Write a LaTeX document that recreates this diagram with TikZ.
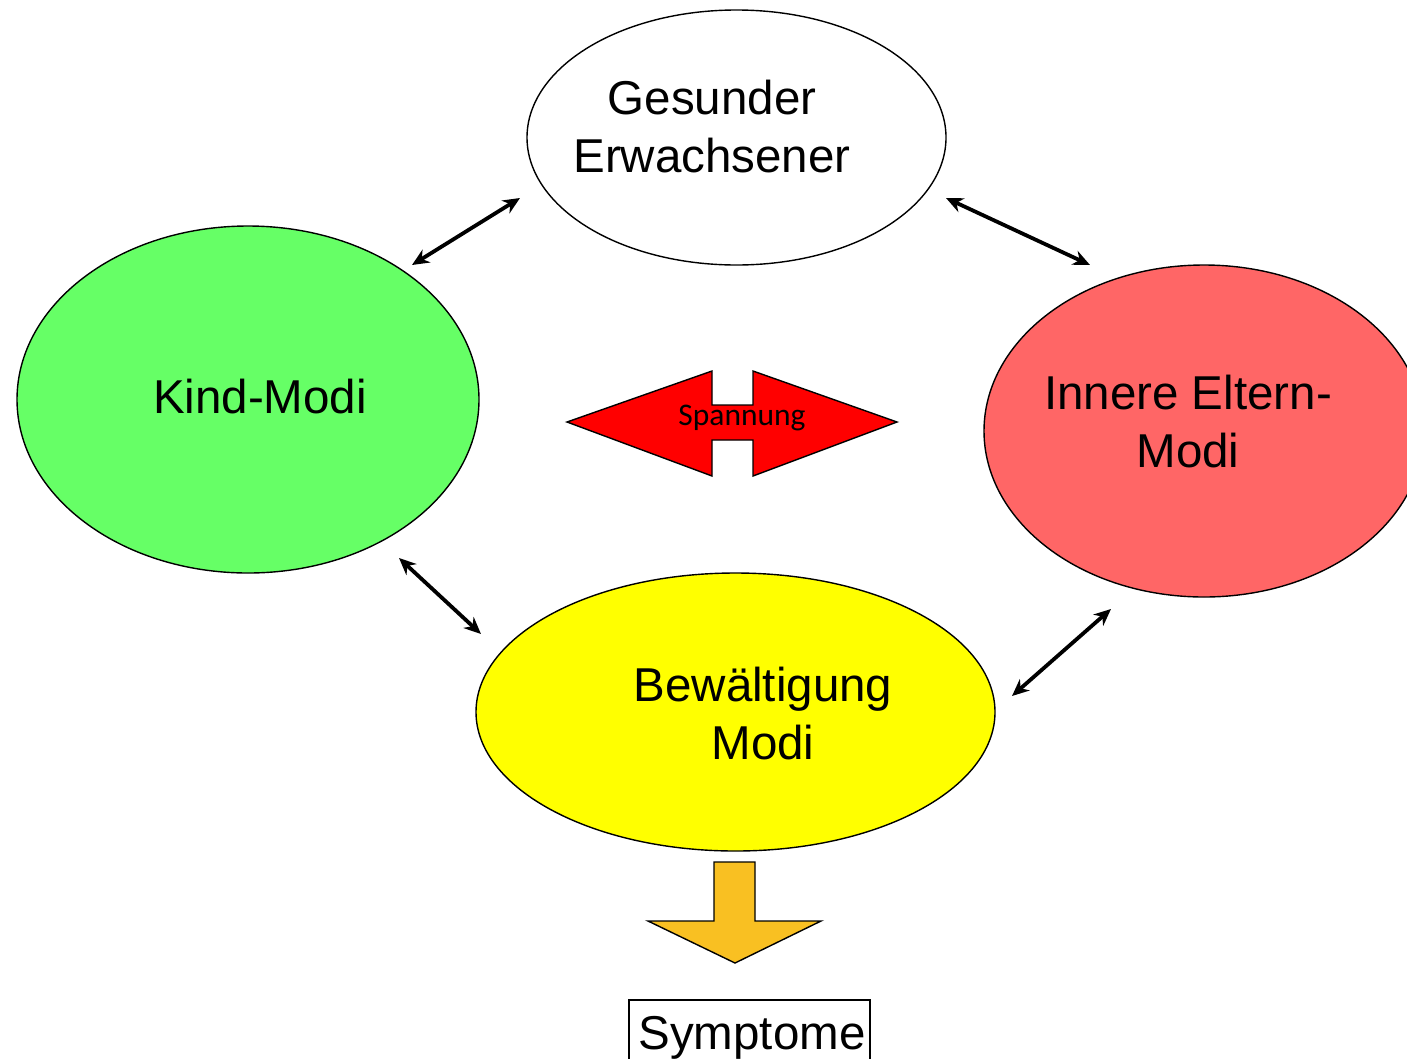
\documentclass[tikz,border=0pt]{standalone}
\usepackage{fontspec}
\setmainfont{Liberation Sans}
\newfontfamily\calfont{Carlito}
\usetikzlibrary{shapes.geometric,arrows.meta}
\definecolor{kindgreen}{HTML}{66FF66}
\definecolor{elternred}{HTML}{FF6666}
\definecolor{copeyellow}{HTML}{FFFF00}
\definecolor{symorange}{HTML}{F9C022}
\begin{document}
\begin{tikzpicture}[x=1pt,y=-1pt,
  modus/.style={ellipse,draw=black,line width=1.4pt,inner sep=0pt},
  bigtext/.style={font=\fontsize{47.5}{58}\selectfont,align=center,inner sep=0pt},
  link/.style={line width=3.8pt,{Stealth[length=17pt,width=15pt]}-{Stealth[length=17pt,width=15pt]}},
  fatarrow/.style={draw=black,line width=1.4pt,line join=miter}]
\useasboundingbox (0,0) rectangle (1407,1058);
\clip (0,0) rectangle (1407,1058);
\fill[white] (0,0) rectangle (1407,1058);

% ellipses
\node[modus,fill=white,minimum width=419pt,minimum height=255pt] (ge) at (736.5,137.5) {};
\node[modus,fill=kindgreen,minimum width=462pt,minimum height=347pt] (km) at (248,399.5) {};
\node[modus,fill=elternred,minimum width=440pt,minimum height=332pt] (ie) at (1204,431) {};
\node[modus,fill=copeyellow,minimum width=519pt,minimum height=278pt] (bm) at (735.5,712) {};

% texts (base anchor = last line baseline)
\node[bigtext,anchor=base] (tge) at (712,172) {Gesunder\\Erwachsener};
\node[bigtext,anchor=base] (tkm) at (260,413) {Kind-Modi};
\node[bigtext,anchor=base] (tie) at (1188,467) {Innere Eltern-\\Modi};
\node[bigtext,anchor=base] (tbm) at (763,759) {Bewältigung\\Modi};

% connector end points
\coordinate (a1) at (412,265); \coordinate (a2) at (520,198);
\coordinate (b1) at (946,198); \coordinate (b2) at (1090,265);
\coordinate (c1) at (399,558); \coordinate (c2) at (481,634);
\coordinate (d1) at (1012,696); \coordinate (d2) at (1111,609);
\draw[link] (a1) -- (a2);
\draw[link] (b1) -- (b2);
\draw[link] (c1) -- (c2);
\draw[link] (d1) -- (d2);

% Spannung double arrow
\draw[fatarrow,fill=red] (567,422) -- (712,371) -- (712,405) -- (753,405) -- (753,371)
  -- (897,422) -- (753,476) -- (753,440) -- (712,440) -- (712,476) -- cycle;
\node[font=\calfont\fontsize{31.5}{36}\selectfont,anchor=base,inner sep=0pt] (sp) at (742,425) {Spannung};

% down arrow
\draw[fatarrow,fill=symorange] (714,862) -- (755,862) -- (755,921) -- (821,921) -- (735,963)
  -- (648,921) -- (714,921) -- cycle;

% Symptome box
\draw[line width=2pt] (629,1000) rectangle (870,1075);
\node[bigtext,anchor=base] (sy) at (752,1049) {Symptome};
\end{tikzpicture}
\end{document}
